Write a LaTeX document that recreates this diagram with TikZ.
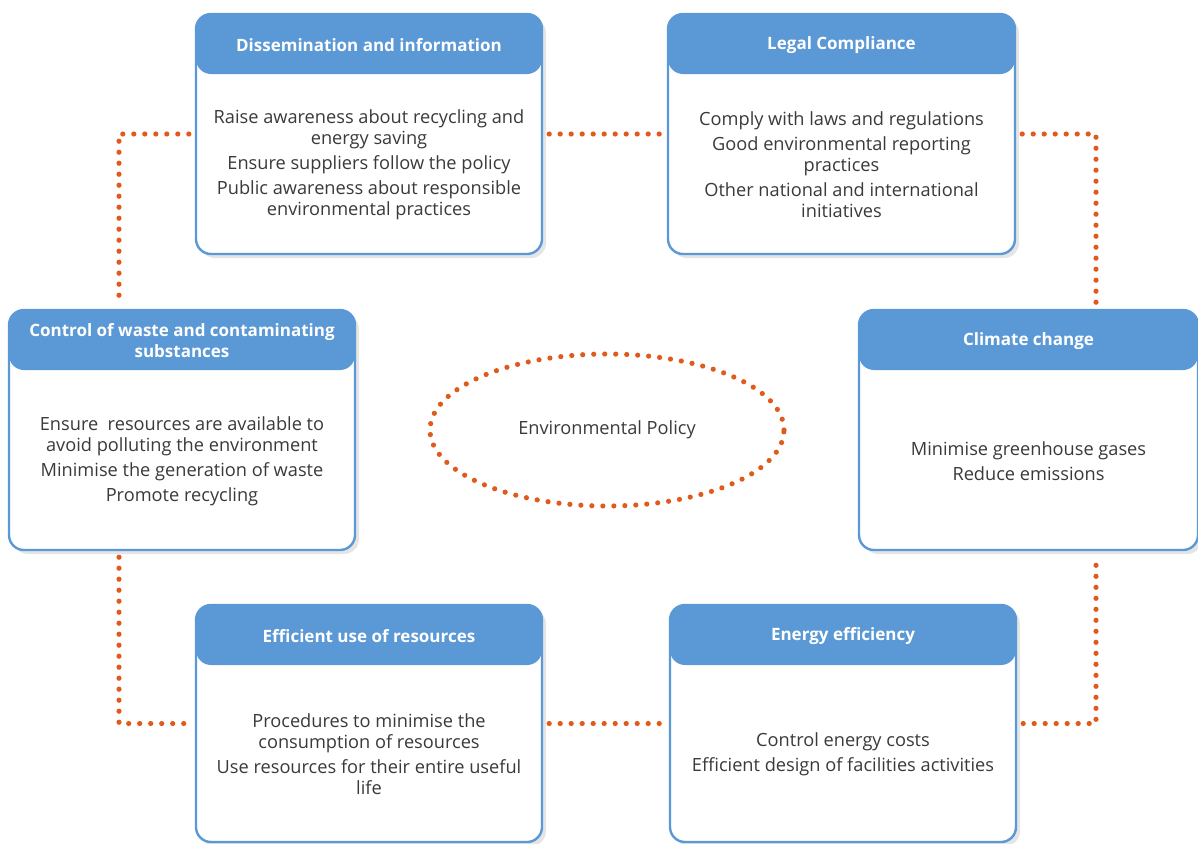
\documentclass[tikz,border=0pt]{standalone}
\usepackage{fontspec}
\setmainfont{Open Sans}
\usepackage{tikz}
\usetikzlibrary{positioning, shapes.geometric, shadows}
\definecolor{cardblue}{HTML}{5B98D6}
\definecolor{dotorange}{HTML}{E05A1C}
\definecolor{bodygray}{HTML}{3A3A3A}
\tikzstyle{card}=[draw=cardblue, line width=1.2pt, fill=white, rounded corners=7.5pt, inner sep=0pt,
  minimum width=173pt, minimum height=120pt,
  drop shadow={shadow xshift=2pt, shadow yshift=-2pt, opacity=0.1, fill=black},
  path picture={\fill[cardblue] (path picture bounding box.north west) rectangle ([yshift=-30pt]path picture bounding box.north east);}]
\tikzstyle{head}=[text=white, font=\fontsize{8.5}{10.5}\selectfont\bfseries, align=center]
\tikzstyle{txt}=[text=bodygray, font=\fontsize{9.1}{10.5}\selectfont, align=center]
\tikzstyle{dots}=[draw=dotorange, line width=2.6pt, line cap=round, dash pattern=on 0pt off 5.5pt]

\begin{document}
\begin{tikzpicture}[x=0.5pt, y=-0.5pt]
    \useasboundingbox (0,0) rectangle (1198,843);

    % Cards.
    \node[card] (dis) at (369,134) {};
    \node[card, minimum width=173.5pt] (leg) at (841.5,134) {};
    \node[card] (waste) at (182,430) {};
    \node[card, minimum width=169.5pt] (clim) at (1028.5,430) {};
    \node[card, minimum height=118.5pt] (eff) at (369,723.5) {};
    \node[card, minimum height=118.5pt] (ene) at (843,723.5) {};

    % Titles.
    \node[head] (disT) at ([yshift=-16pt]dis.north) {Dissemination and information};
    \node[head] (legT) at ([yshift=-16pt]leg.north) {Legal Compliance};
    \node[head] (wasteT) at ([yshift=-16pt]waste.north) {Control of waste and contaminating\\substances};
    \node[head] (climT) at ([yshift=-16pt]clim.north) {Climate change};
    \node[head] (effT) at ([yshift=-16pt]eff.north) {Efficient use of resources};
    \node[head] (eneT) at ([yshift=-16pt]ene.north) {Energy efficiency};

    % Contents.
    \node[txt] (disB) at ([yshift=-15.5pt]dis.center) {Raise awareness about recycling and\\energy saving\\[2pt]
      Ensure suppliers follow the policy\\[2pt]Public awareness about responsible\\environmental practices};
    \node[txt] (legB) at ([yshift=-15.5pt]leg.center) {Comply with laws and regulations\\[2pt]
      Good environmental reporting\\practices\\[2pt]Other national and international\\initiatives};
    \node[txt] (wasteB) at ([yshift=-15.5pt]waste.center) {Ensure~ resources are available to\\avoid polluting the environment\\[2pt]
      Minimise the generation of waste\\[2pt]Promote recycling};
    \node[txt] (climB) at ([yshift=-15.5pt]clim.center) {Minimise greenhouse gases\\[2pt]Reduce emissions};
    \node[txt] (effB) at ([yshift=-15.5pt]eff.center) {Procedures to minimise the\\consumption of resources\\[2pt]
      Use resources for their entire useful\\life};
    \node[txt] (eneB) at ([yshift=-15.5pt]ene.center) {Control energy costs\\[2pt]Efficient design of facilities activities};

    % Centre.
    \node[ellipse, dots, minimum width=177pt, minimum height=76pt, txt] (pol) at (607,430) {Environmental Policy};

    % Links.
    \draw[dots, shorten <=3pt, shorten >=3pt] (dis.west) -| ([xshift=-31.5pt]waste.north);
    \draw[dots, shorten <=3pt, shorten >=3pt] (dis.east) -- (leg.west);
    \draw[dots, shorten <=3pt, shorten >=3pt] (leg.east) -| ([xshift=33.75pt]clim.north);
    \draw[dots, shorten <=3pt, shorten >=3pt] ([xshift=-31.5pt]waste.south) |- (eff.west);
    \draw[dots, shorten <=3pt, shorten >=3pt] (eff.east) -- (ene.west);
    \draw[dots, shorten <=3pt, shorten >=3pt] (ene.east) -| ([xshift=33.75pt]clim.south);
\end{tikzpicture}
\end{document}
